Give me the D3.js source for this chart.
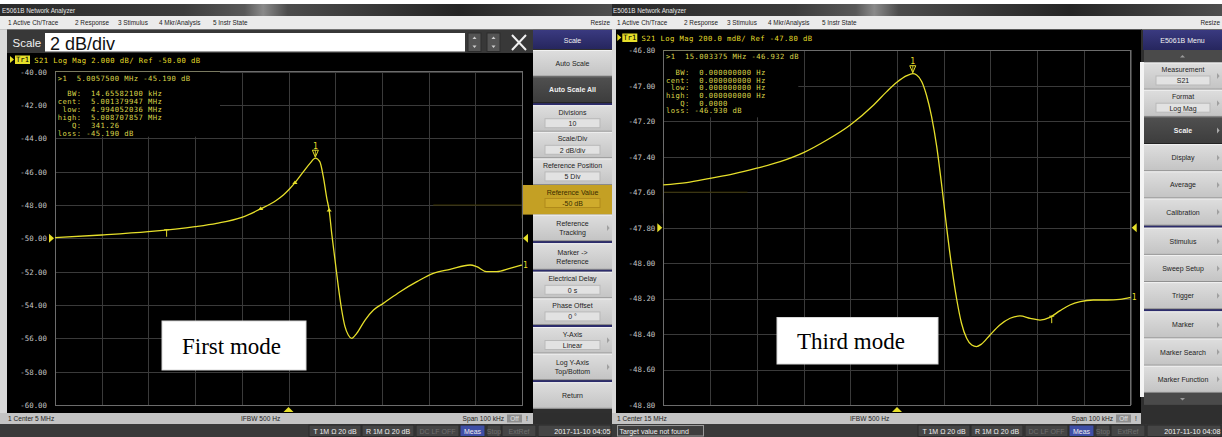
<!DOCTYPE html>
<html><head><meta charset="utf-8">
<script src="https://cdn.jsdelivr.net/npm/d3@7/dist/d3.min.js"></script>
<style>
html,body{margin:0;padding:0;background:#fff;overflow:hidden}
svg{display:block}
</style></head><body>
<svg id="chart" width="1222" height="437"></svg>
<script>
// ---------- Channel 1, S21 log magnitude: first mode (centre 5 MHz, span 100 kHz) ----------
const firstFreqMHz = [4.950, 4.960, 4.970, 4.980, 4.9846, 4.990, 4.9939, 4.9975, 4.9989, 5.000,
  5.0014, 5.0032, 5.0046, 5.00575, 5.0067, 5.00745, 5.0082, 5.0087, 5.00925, 5.00996,
  5.01067, 5.01139, 5.0121, 5.0128, 5.01353, 5.0146, 5.0164, 5.0182, 5.0203, 5.0239,
  5.0275, 5.0310, 5.0346, 5.0389, 5.0403, 5.0424, 5.0446, 5.0474, 5.0500];
const firstS21dB = [-49.96, -49.80, -49.60, -49.30, -49.10, -48.74, -48.25, -47.70, -47.40, -47.10,
  -46.66, -46.00, -45.50, -45.19, -45.40, -46.30, -47.60, -48.30, -49.70, -51.30,
  -52.90, -54.30, -55.30, -55.80, -56.00, -55.70, -54.90, -54.30, -53.90, -53.20,
  -52.60, -52.10, -51.86, -51.60, -51.70, -52.00, -52.00, -51.80, -51.60];
const firstYTicks = [-40, -42, -44, -46, -48, -50, -52, -54, -56, -58, -60];
const firstXGrid = [4.95, 4.96, 4.97, 4.98, 4.99, 5.00, 5.01, 5.02, 5.03, 5.04, 5.05];
const firstRefLevel = -50;
const firstMarker = [5.00575, -45.19];
const firstBandMarkers = [4.994052036, 5.001379947, 5.008707857];
const firstTickMarker = 4.9739;
const firstHeader = "S21 Log Mag 2.000 dB/ Ref -50.00 dB";
const firstReadout = [
  ">1  5.0057500 MHz -45.190 dB",
  "  BW:  14.65582100 kHz",
  "cent:  5.001379947 MHz",
  " low:  4.994052036 MHz",
  "high:  5.008707857 MHz",
  "   Q:  341.26",
  "loss: -45.190 dB"];

// ---------- Channel 1, S21 log magnitude: third mode (centre 15 MHz, span 100 kHz) ----------
const thirdFreqMHz = [14.950, 14.955, 14.960, 14.965, 14.970, 14.975, 14.980, 14.985, 14.990, 14.995,
  14.9978, 14.9999, 15.0021, 15.003375, 15.0042, 15.0053, 15.0063, 15.0074, 15.0085, 15.0096,
  15.0106, 15.0117, 15.0128, 15.0138, 15.0149, 15.0160, 15.0170, 15.0181, 15.0199, 15.0220,
  15.0242, 15.0263, 15.0285, 15.0306, 15.0327, 15.0349, 15.0370, 15.0392, 15.0420, 15.0449,
  15.0477, 15.0500];
const thirdS21dB = [-47.559, -47.546, -47.522, -47.497, -47.465, -47.428, -47.377, -47.306, -47.221, -47.108,
  -47.033, -46.982, -46.943, -46.932, -46.939, -46.977, -47.052, -47.174, -47.343, -47.569,
  -47.794, -48.020, -48.208, -48.339, -48.424, -48.462, -48.471, -48.456, -48.405, -48.349,
  -48.311, -48.298, -48.311, -48.321, -48.306, -48.268, -48.236, -48.217, -48.208, -48.208,
  -48.204, -48.193];
const thirdYTicks = [-46.8, -47.0, -47.2, -47.4, -47.6, -47.8, -48.0, -48.2, -48.4, -48.6, -48.8];
const thirdXGrid = [14.95, 14.96, 14.97, 14.98, 14.99, 15.00, 15.01, 15.02, 15.03, 15.04, 15.05];
const thirdRefLevel = -47.8;
const thirdMarker = [15.003375, -46.932];
const thirdBandMarkers = [];
const thirdTickMarker = 15.0331;
const thirdHeader = "S21 Log Mag 200.0 mdB/ Ref -47.80 dB";
const thirdReadout = [
  ">1  15.003375 MHz -46.932 dB",
  "  BW:  0.000000000 Hz",
  "cent:  0.000000000 Hz",
  " low:  0.000000000 Hz",
  "high:  0.000000000 Hz",
  "   Q:  0.0000",
  "loss: -46.930 dB"];

// ---------- instrument chrome text ----------
const menuItems = ["1 Active Ch/Trace", "2 Response", "3 Stimulus", "4 Mkr/Analysis", "5 Instr State"];
const scaleKeys = [
  {t: ["Auto Scale"]}, {t: ["Auto Scale All"], dark: true, divAfter: true},
  {t: ["Divisions"], f: "10"}, {t: ["Scale/Div"], f: "2 dB/div"},
  {t: ["Reference Position"], f: "5 Div"}, {t: ["Reference Value"], f: "-50 dB", hl: true},
  {t: ["Reference", "Tracking"], arrow: true, divAfter: true},
  {t: ["Marker ->", "Reference"], divAfter: true},
  {t: ["Electrical Delay"], f: "0 s"}, {t: ["Phase Offset"], f: "0 °", divAfter: true},
  {t: ["Y-Axis"], f: "Linear", arrow: true}, {t: ["Log Y-Axis", "Top/Bottom"], arrow: true, divAfter: true},
  {t: ["Return"]}];
const menuKeys = [
  {t: ["Measurement"], f: "S21"}, {t: ["Format"], f: "Log Mag"}, {t: ["Scale"], dark: true},
  {t: ["Display"]}, {t: ["Average"]}, {t: ["Calibration"], divAfter: true},
  {t: ["Stimulus"]}, {t: ["Sweep Setup"]}, {t: ["Trigger"], divAfter: true},
  {t: ["Marker"]}, {t: ["Marker Search"]}, {t: ["Marker Function"]}];
const statusLeft = ["T 1M Ω 20 dB", "R 1M Ω 20 dB", "DC LF OFF", "Meas", "Stop", "ExtRef"];

const UI = '"Liberation Sans", Arial, sans-serif';
const MONO = '"DejaVu Sans Mono", monospace';
const YEL = '#e6df2a';
const TXT = '#dcd64a';

const svg = d3.select('#chart');
const defs = svg.append('defs');

function grad(id, stops, vertical) {
  const lg = defs.append('linearGradient').attr('id', id)
    .attr('x1', 0).attr('y1', 0).attr('x2', vertical ? 0 : 1).attr('y2', vertical ? 1 : 0);
  stops.forEach(s => lg.append('stop').attr('offset', s[0]).attr('stop-color', s[1]));
}
grad('titleGrad', [[0, '#2a2a2a'], [0.3, '#3c3c3c'], [0.4, '#595959'], [0.43, '#8a8a8a'], [0.47, '#4c4c4c'], [0.75, '#252525'], [1, '#4e4e4e']]);
grad('keyLight', [[0, '#dedede'], [1, '#c3c3c3']], true);
grad('keyDark', [[0, '#505050'], [1, '#3c3c3c']], true);
grad('navy', [[0, '#3a3a80'], [1, '#26265e']], true);

function txt(g, x, y, s, o = {}) {
  const t = g.append('text').attr('x', x).attr('y', y).text(s)
    .attr('font-family', o.family || UI).attr('font-size', o.size || 7)
    .attr('fill', o.fill || '#1e1e1e').attr('text-anchor', o.anchor || 'start')
    .attr('font-weight', o.weight || 'normal').style('white-space', 'pre');
  if (o.ls) t.attr('letter-spacing', o.ls);
  return t;
}
function rect(g, x, y, w, h, fill, stroke) {
  const r = g.append('rect').attr('x', x).attr('y', y).attr('width', w).attr('height', h).attr('fill', fill);
  if (stroke) r.attr('stroke', stroke).attr('stroke-width', 1);
  return r;
}

// ---------- window chrome for one analyzer screen ----------
function chrome(ox, left, right, opt) {
  const g = svg.append('g');
  rect(g, left, 0, right - left, 437, '#2e2e2e');
  rect(g, left, 0, right - left, 4, '#ffffff');
  rect(g, left, 4, right - left, 12, 'url(#titleGrad)');
  txt(g, Math.max(ox + 2, left + 1), 12.5, 'E5061B Network Analyzer', {fill: '#e6e6e6', size: 6.3});
  rect(g, left, 16, right - left, 13.5, '#ebebeb');
  g.append('line').attr('x1', left).attr('x2', right).attr('y1', 29.5).attr('y2', 29.5).attr('stroke', '#b0b0b0');
  const mx = [8, 75, 118, 159, 213];
  menuItems.forEach((m, i) => txt(g, ox + mx[i], 25, m, {size: 6.4}));
  txt(g, right - 2, 25, 'Resize', {size: 6.4, anchor: 'end'});
  // black trace area and left border strip
  rect(g, left, 29.5, ox + 7 - left, 384, '#d9d9d9');
  rect(g, ox + 7, opt.blackTop, 526, 413 - opt.blackTop, '#000');
  // status line
  rect(g, left, 413, ox + 533 - left, 11, '#c4c4c4');
  txt(g, ox + 8, 421.3, opt.center, {size: 6.6});
  txt(g, ox + 241, 421.3, 'IFBW 500 Hz', {size: 6.6});
  txt(g, ox + 504, 421.3, 'Span 100 kHz', {size: 6.6, anchor: 'end'});
  rect(g, ox + 507, 414.5, 15, 8, '#8e8e8e');
  txt(g, ox + 514.5, 421, 'Off', {size: 6.4, fill: '#e2e2e2', anchor: 'middle'});
  txt(g, ox + 526, 421.3, '!', {size: 6.6});
  // bottom bar
  rect(g, left, 424, right - left, 13, '#3a3a3a');
  const bx = [[309, 52], [362, 52], [416, 43], [460, 25], [487, 14], [502, 34]];
  statusLeft.forEach((s, i) => {
    const dim = i === 2 || i === 4 || i === 5;
    const meas = i === 3;
    rect(g, ox + bx[i][0], 425, bx[i][1], 11.5, meas ? '#3f4fa6' : '#454545', '#2a2a2a');
    txt(g, ox + bx[i][0] + bx[i][1] / 2, 433.8, s, {size: 7, anchor: 'middle', fill: dim ? '#6f6f6f' : '#ececec'});
  });
  rect(g, ox + 538, 425, right - ox - 539, 11.5, '#454545', '#2a2a2a');
  txt(g, right - 1.5, 433.8, opt.date, {size: 7.2, anchor: 'end', fill: '#f2f2f2'});
  if (opt.note) {
    rect(g, ox + 8.5, 425.5, 86, 10.5, '#3e3e3e', '#9a9a9a');
    txt(g, ox + 10.5, 433.8, opt.note, {size: 7, fill: '#f0f0f0'});
  }
  return g;
}

function arrow(g, x, yc, fill) {
  g.append('path').attr('d', `M${x},${yc - 3}L${x + 2.6},${yc}L${x},${yc + 3}Z`).attr('fill', fill || '#9a9a9a');
}

// ---------- soft-key column ----------
function softKeys(g, x, w, keys, y0, h, hlLeft) {
  let y = y0;
  keys.forEach(k => {
    const kh = k.hl ? h + 3 : h;
    if (k.hl) rect(g, hlLeft, y, x + w - hlLeft, kh, '#c4a024');
    else rect(g, x, y, w, kh, k.dark ? 'url(#keyDark)' : 'url(#keyLight)');
    if (!k.hl) {
      g.append('line').attr('x1', x).attr('x2', x + w).attr('y1', y + 0.5).attr('y2', y + 0.5).attr('stroke', k.dark ? '#666' : '#f2f2f2');
      g.append('line').attr('x1', x).attr('x2', x + w).attr('y1', y + kh - 0.5).attr('y2', y + kh - 0.5).attr('stroke', k.dark ? '#222' : '#8a8a8a');
    }
    const col = k.dark ? '#f0f0f0' : (k.hl ? '#3a2c00' : '#1e1e1e');
    const cx = x + w / 2;
    if (k.f) {
      txt(g, cx, y + 9.5, k.t[0], {size: 7, anchor: 'middle', fill: col});
      rect(g, x + 12, y + 13.5, w - 24, 9, k.hl ? '#cfab2c' : '#e2e2e2', k.hl ? '#b08a1a' : '#b9b9b9');
      txt(g, cx, y + 20.8, k.f, {size: 7, anchor: 'middle', fill: col});
    } else if (k.t.length === 2) {
      txt(g, cx, y + kh / 2 - 1.5, k.t[0], {size: 7, anchor: 'middle', fill: col});
      txt(g, cx, y + kh / 2 + 7.5, k.t[1], {size: 7, anchor: 'middle', fill: col});
    } else {
      txt(g, cx, y + kh / 2 + 2.5, k.t[0], {size: 7, anchor: 'middle', fill: col, weight: k.dark ? 'bold' : 'normal'});
    }
    if (k.arrow) arrow(g, x + w - 5, y + kh / 2, k.dark ? '#aaa' : '#a0a0a0');
    y += kh;
    if (k.divAfter) { rect(g, x, y, w, 2, '#2c2c6c'); y += 2; }
  });
  return y;
}

// ---------- one S21 trace panel ----------
function drawPlot(p) {
  const x = d3.scaleLinear().domain([p.xGrid[0], p.xGrid[p.xGrid.length - 1]]).range([p.box.x0, p.box.x1]);
  const y = d3.scaleLinear().domain([p.yTicks[p.yTicks.length - 1], p.yTicks[0]]).range([p.box.y1, p.box.y0]);
  const W = p.box.x1 - p.box.x0, H = p.box.y1 - p.box.y0;
  const g = svg.append('g');

  const ya = g.append('g').attr('transform', `translate(${p.box.x0},0)`)
    .call(d3.axisLeft(y).tickValues(p.yTicks).tickSize(-W).tickPadding(8).tickFormat(d => d.toFixed(2)));
  ya.attr('font-family', null).attr('font-size', null);
  ya.select('.domain').remove();
  ya.selectAll('line').attr('stroke', '#3a3a3a').attr('shape-rendering', 'crispEdges');
  ya.selectAll('text').attr('fill', '#c6c6c6').attr('font-family', MONO).attr('font-size', 7.4);

  const xa = g.append('g').attr('transform', `translate(0,${p.box.y1})`)
    .call(d3.axisBottom(x).tickValues(p.xGrid).tickSize(-H).tickFormat(''));
  xa.select('.domain').remove();
  xa.selectAll('line').attr('stroke', '#3a3a3a').attr('shape-rendering', 'crispEdges');

  // faint drag highlight left on the graticule
  g.append('path').attr('d', p.dim(x, y)).attr('fill', 'none').attr('stroke', '#3a3300').attr('stroke-width', 1);

  // marker readout block
  rect(g, p.box.x0, p.box.y0, p.readW, p.readH, '#000');
  p.readout.forEach((s, i) => txt(g, p.box.x0 + 2.7, p.readY[i], s, {family: MONO, size: 7.2, ls: 0.42, fill: TXT}));

  g.append('rect').attr('x', p.box.x0).attr('y', p.box.y0).attr('width', W).attr('height', H)
    .attr('fill', 'none').attr('stroke', '#6c6c6c').attr('shape-rendering', 'crispEdges');
  g.append('line').attr('x1', p.box.x0).attr('x2', p.box.x0 + p.readW).attr('y1', p.box.y0).attr('y2', p.box.y0)
    .attr('stroke', '#7a7a60').attr('shape-rendering', 'crispEdges');

  // trace
  const pts = d3.zip(p.freq, p.db);
  g.append('path').datum(pts)
    .attr('d', d3.line().x(d => x(d[0])).y(d => y(d[1])).curve(d3.curveMonotoneX))
    .attr('fill', 'none').attr('stroke', YEL).attr('stroke-width', 1.3).attr('stroke-linejoin', 'round');

  const interp = f => {
    const i = Math.max(1, d3.bisectLeft(p.freq, f));
    const t = (f - p.freq[i - 1]) / (p.freq[i] - p.freq[i - 1]);
    return p.db[i - 1] + t * (p.db[i] - p.db[i - 1]);
  };

  // bandwidth search markers
  p.band.forEach(f => {
    const px = x(f), py = y(interp(f));
    g.append('path').attr('d', `M${px - 2.6},${py + 1.2}L${px + 2.6},${py + 1.2}L${px},${py - 2.2}Z`).attr('fill', YEL);
  });
  // tick marker
  {
    const px = x(p.tick), py = y(interp(p.tick));
    g.append('path').attr('d', `M${px - 2.5},${py}L${px + 2.5},${py}M${px},${py}L${px},${py + 7}`)
      .attr('stroke', YEL).attr('stroke-width', 1).attr('fill', 'none');
  }
  // active marker 1
  {
    const px = x(p.marker[0]), py = y(p.marker[1]);
    g.append('path').attr('d', `M${px - 3},${py - 8}L${px + 3},${py - 8}L${px},${py - 1}Z`)
      .attr('fill', 'none').attr('stroke', YEL).attr('stroke-width', 1);
    g.append('line').attr('x1', px).attr('x2', px).attr('y1', py - 8).attr('y2', py - 1).attr('stroke', YEL).attr('stroke-width', 0.8);
    txt(g, px, py - 9.5, '1', {family: MONO, size: 8, fill: YEL, anchor: 'middle'});
  }
  // trace number at the sweep end
  txt(g, p.box.x1 + 1, y(p.db[p.db.length - 1]) + 2.5, '1', {family: MONO, size: 8, fill: YEL});

  // reference level arrows and centre-frequency arrow
  const ry = y(p.ref);
  g.append('path').attr('d', `M${p.box.x0 - 6},${ry - 4.5}L${p.box.x0 - 1},${ry}L${p.box.x0 - 6},${ry + 4.5}Z`).attr('fill', YEL);
  g.append('path').attr('d', `M${p.box.x1 + 6},${ry - 4.5}L${p.box.x1 + 1},${ry}L${p.box.x1 + 6},${ry + 4.5}Z`).attr('fill', YEL);
  const cx = x((p.xGrid[0] + p.xGrid[p.xGrid.length - 1]) / 2);
  g.append('path').attr('d', `M${cx - 5},${p.box.y1 + 7}L${cx + 5},${p.box.y1 + 7}L${cx},${p.box.y1 + 2}Z`).attr('fill', YEL);

  // trace header line
  const hy = p.headerY;
  const hx = p.box.x0 - p.headerOff;
  g.append('path').attr('d', `M${hx},${hy - 7}L${hx + 4},${hy - 3.5}L${hx},${hy}Z`).attr('fill', YEL);
  rect(g, hx + 5, hy - 7.5, 15, 8.5, YEL);
  txt(g, hx + 12.5, hy - 0.8, 'Tr1', {family: MONO, size: 7.2, fill: '#000', anchor: 'middle'});
  txt(g, hx + 24.3, hy - 0.5, p.header, {family: MONO, size: 7.2, ls: 0.42, fill: YEL});

  // mode label
  rect(g, p.label.x, p.label.y, p.label.w, p.label.h, '#ffffff', '#d8d8d8');
  txt(g, p.label.x + 20, p.label.y + p.label.h / 2 + 8, p.label.text,
    {family: '"Liberation Serif", "Times New Roman", serif', size: 23, fill: '#000'});
}

// ================= left screen =================
const gl = chrome(0, 0, 612, {blackTop: 53, center: '1 Center 5 MHz', date: '2017-11-10 04:05'});
// entry bar
rect(gl, 7, 29.5, 526, 23.5, '#383838');
txt(gl, 12.5, 47, 'Scale', {size: 11.5, fill: '#f0f0f0'});
rect(gl, 45, 33, 420, 18.5, '#ffffff');
txt(gl, 50, 49.5, '2 dB/div', {size: 18, fill: '#111'});
[468, 487].forEach(bx => {
  rect(gl, bx, 33, 13, 18.5, '#545454', '#2c2c2c');
  gl.append('path').attr('d', `M${bx + 4.5},${39}L${bx + 8.5},${39}L${bx + 6.5},${36.5}Z`).attr('fill', '#cfcfcf');
  gl.append('path').attr('d', `M${bx + 4.5},${45.5}L${bx + 8.5},${45.5}L${bx + 6.5},${48}Z`).attr('fill', '#cfcfcf');
});
gl.append('path').attr('d', 'M512,35L526,50M526,35L512,50').attr('stroke', '#f0f0f0').attr('stroke-width', 2);
// soft keys
const kl = svg.append('g');
rect(kl, 533, 29.5, 79, 384, '#2f2f2f');
rect(kl, 533, 30, 79, 19, 'url(#navy)');
txt(kl, 572.5, 42.5, 'Scale', {size: 7, fill: '#f2f2f2', anchor: 'middle'});
softKeys(kl, 533, 79, scaleKeys, 50, 26.6, 522);

drawPlot({
  freq: firstFreqMHz, db: firstS21dB, yTicks: firstYTicks, xGrid: firstXGrid,
  box: {x0: 55, x1: 522, y0: 71.7, y1: 405},
  ref: firstRefLevel, marker: firstMarker, band: firstBandMarkers, tick: firstTickMarker,
  header: firstHeader, headerY: 63, headerOff: 45,
  readout: firstReadout, readW: 165, readH: 65, readY: [81, 95.5, 103.5, 111.5, 119.5, 127.5, 135.5],
  dim: (x, y) => `M${x(5.031)},${y(-48)}H${x(5.05)}M${x(5.05)},${y(-46.5)}V${y(-48.8)}`,
  label: {x: 162, y: 321, w: 144, h: 49, text: 'First mode'}
});

// ================= right screen =================
const ox = 609;
const gr = chrome(ox, 612, 1222, {blackTop: 29.5, center: '1 Center 15 MHz', date: '2017-11-10 04:08', note: 'Target value not found'});
const kr = svg.append('g');
rect(kr, 1141, 29.5, 81, 394.5, '#2f2f2f');
rect(kr, 1140, 62, 4, 335, '#f4f4f4');
rect(kr, 1143, 30, 79, 20, 'url(#navy)');
txt(kr, 1182.5, 43, 'E5061B Menu', {size: 7, fill: '#f2f2f2', anchor: 'middle'});
rect(kr, 1144, 50, 78, 12, '#4a4a4a');
kr.append('path').attr('d', 'M1180,57.5L1185,57.5L1182.5,55Z').attr('fill', '#9a9a9a');
const endY = softKeys(kr, 1144, 78, menuKeys.map(k => Object.assign({arrow: true}, k)), 62.5, 27.2, 1144);
rect(kr, 1144, endY, 78, 12, '#4a4a4a');
kr.append('path').attr('d', `M1180,${endY + 5}L1185,${endY + 5}L1182.5,${endY + 7.5}Z`).attr('fill', '#9a9a9a');

drawPlot({
  freq: thirdFreqMHz, db: thirdS21dB, yTicks: thirdYTicks, xGrid: thirdXGrid,
  box: {x0: 663.3, x1: 1130.7, y0: 50.3, y1: 405},
  ref: thirdRefLevel, marker: thirdMarker, band: thirdBandMarkers, tick: thirdTickMarker,
  header: thirdHeader, headerY: 41, headerOff: 46,
  readout: thirdReadout, readW: 135, readH: 67, readY: [59, 75, 82.7, 90.4, 98, 105.7, 113.4],
  dim: (x, y) => `M${x(14.95)},${y(-47.6)}H${x(14.968)}M${x(14.95)},${y(-47.52)}V${y(-47.72)}`,
  label: {x: 777, y: 317.5, w: 161, h: 46.5, text: 'Third mode'}
});
</script>
</body></html>
